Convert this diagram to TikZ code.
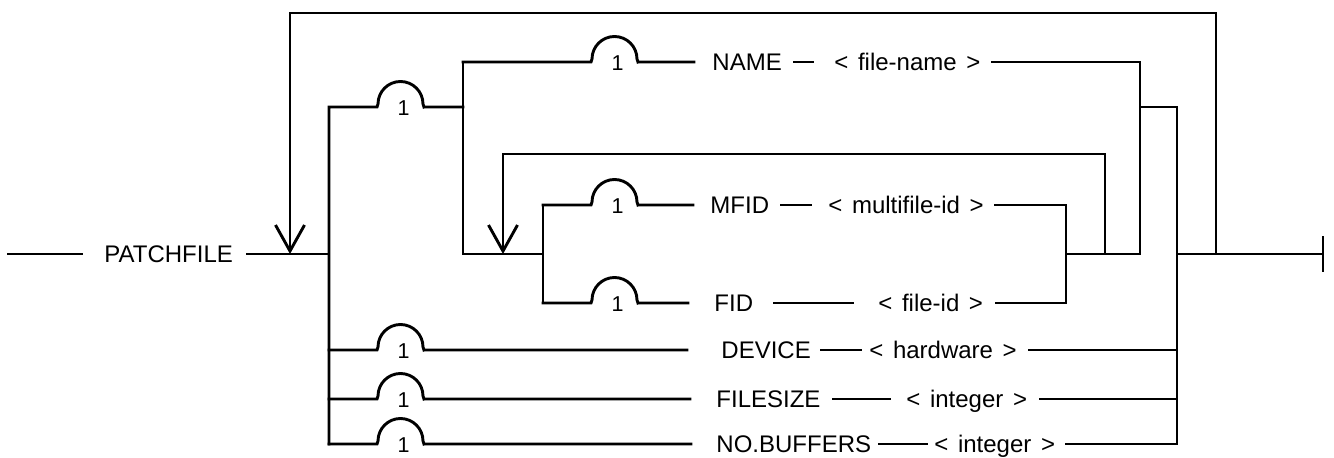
\documentclass[tikz,border=0pt]{standalone}
\usepackage{fontspec}
\setmainfont{Liberation Sans}
\usetikzlibrary{arrows.meta}

\tikzset{
  kw/.style={inner sep=0pt, anchor=west, text height=17pt, text depth=0pt},
  rep/.style={inner sep=0pt, text height=15.4pt, text depth=0pt, xshift=3pt,
    font=\fontsize{21.5}{23}\selectfont},
  hump/.style={insert path={-- ++(1,-3) arc[start angle=180, end angle=360, radius=22.5]
    -- ++(1,3) ++(-23.5,0.5) node[rep] (#1) {1} ++(23.5,-0.5)}},
  backarrow/.style={-{Straight Barb[length=26pt, width=29pt]}}
}
\newcommand{\argtxt}[1]{<\hspace{0.4em}#1\hspace{0.4em}>}

\begin{document}
\begin{tikzpicture}[x=1pt, y=-1pt, line width=2.9pt, line cap=rect,
  font=\fontsize{24}{28}\selectfont]
  \useasboundingbox (0,0) rectangle (1334,458);

  % columns
  \coordinate (cloop) at (290,0);
  \coordinate (ca) at (329,0);
  \coordinate (ha) at (377,0);
  \coordinate (cb) at (463,0);
  \coordinate (cloopin) at (503,0);
  \coordinate (cc) at (543,0);
  \coordinate (hb) at (591,0);
  \coordinate (cd) at (1066,0);
  \coordinate (cloopout) at (1105,0);
  \coordinate (ce) at (1140,0);
  \coordinate (cf) at (1177,0);
  \coordinate (ctop) at (1216,0);
  % rows
  \coordinate (rtop) at (0,13);
  \coordinate (rname) at (0,62);
  \coordinate (ropt) at (0,107);
  \coordinate (rloop) at (0,154);
  \coordinate (rmfid) at (0,205);
  \coordinate (rmain) at (0,254);
  \coordinate (rfid) at (0,303);
  \coordinate (rdev) at (0,350);
  \coordinate (rsize) at (0,399);
  \coordinate (rbuf) at (0,444);
  \coordinate (start) at (8,254);
  \coordinate (endbar) at (1323,254);

  \node[kw] (kwpatch) at (103,254) {PATCHFILE};
  \node[kw] (kwname) at (711,62) {NAME};
  \node[kw] (argname) at (833,62) {\argtxt{file-name}};
  \node[kw] (kwmfid) at (709,205) {MFID};
  \node[kw] (argmfid) at (827,205) {\argtxt{multifile-id}};
  \node[kw] (kwfid) at (713,303) {FID};
  \node[kw] (argfid) at (877,303) {\argtxt{file-id}};
  \node[kw] (kwdev) at (720,350) {DEVICE};
  \node[kw] (argdev) at (868,350) {\argtxt{hardware}};
  \node[kw] (kwsize) at (715,399) {FILESIZE};
  \node[kw] (argsize) at (905,399) {\argtxt{integer}};
  \node[kw] (kwbuf) at (715,444) {NO.BUFFERS};
  \node[kw] (argbuf) at (933,444) {\argtxt{integer}};

  % entry
  \draw (start) -- ([xshift=-21pt]kwpatch.west);
  \draw ([xshift=13pt]kwpatch.east) -- (ca |- rmain);
  \draw (ca |- rbuf) -- (ca |- ropt) -- (ha |- ropt) [hump=repopt] -- (cb |- ropt);
  \draw (cb |- rname) -- (cb |- rmain) -- (cc |- rmain);

  % NAME
  \draw (cb |- rname) -- (hb |- rname) [hump=repname] -- ([xshift=-17pt]kwname.west);
  \draw ([xshift=11pt]kwname.east) -- ([xshift=-20pt]argname.west);
  \draw ([xshift=11pt]argname.east) -- (ce |- rname) -- (ce |- rmain);

  % MFID / FID
  \draw (cc |- rmfid) -- (cc |- rfid);
  \draw (cc |- rmfid) -- (hb |- rmfid) [hump=repmfid] -- ([xshift=-16pt]kwmfid.west);
  \draw ([xshift=11pt]kwmfid.east) -- ([xshift=-16pt]argmfid.west);
  \draw ([xshift=10pt]argmfid.east) -- (cd |- rmfid) -- (cd |- rfid);
  \draw (cc |- rfid) -- (hb |- rfid) [hump=repfid] -- ([xshift=-25pt]kwfid.west);
  \draw ([xshift=20pt]kwfid.east) -- ([xshift=-24pt]argfid.west);
  \draw ([xshift=12pt]argfid.east) -- (cd |- rfid);
  \draw (cd |- rmain) -- (ce |- rmain);
  \draw[backarrow] (cloopout |- rmain) -- (cloopout |- rloop) -- (cloopin |- rloop) -- (cloopin |- rmain);
  \draw (ce |- ropt) -- (cf |- ropt) -- (cf |- rbuf);

  % DEVICE, FILESIZE, NO.BUFFERS
  \draw (ca |- rdev) -- (ha |- rdev) [hump=repdev] -- ([xshift=-33pt]kwdev.west);
  \draw ([xshift=9pt]kwdev.east) -- ([xshift=-7pt]argdev.west);
  \draw ([xshift=11pt]argdev.east) -- (cf |- rdev);
  \draw (ca |- rsize) -- (ha |- rsize) [hump=repsize] -- ([xshift=-25pt]kwsize.west);
  \draw ([xshift=12pt]kwsize.east) -- ([xshift=-15pt]argsize.west);
  \draw ([xshift=12pt]argsize.east) -- (cf |- rsize);
  \draw (ca |- rbuf) -- (ha |- rbuf) [hump=repbuf] -- ([xshift=-24pt]kwbuf.west);
  \draw ([xshift=7pt]kwbuf.east) -- ([xshift=-6pt]argbuf.west);
  \draw ([xshift=10pt]argbuf.east) -- (cf |- rbuf);

  % exit
  \draw (cf |- rmain) -- (endbar);
  \draw ([yshift=17pt]endbar) -- ([yshift=-17pt]endbar);
  \draw[backarrow] (ctop |- rmain) -- (ctop |- rtop) -- (cloop |- rtop) -- (cloop |- rmain);
\end{tikzpicture}
\end{document}
